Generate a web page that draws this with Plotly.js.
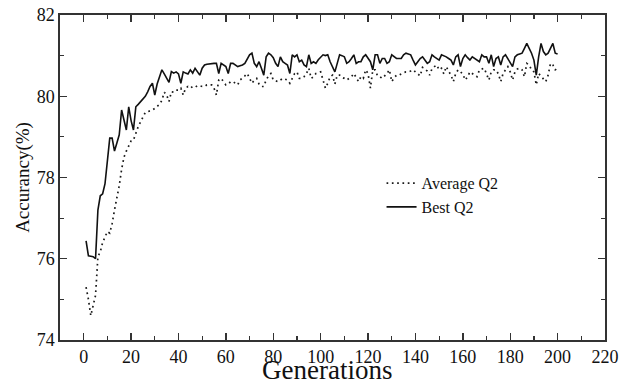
<!DOCTYPE html>
<html>
<head>
<meta charset="utf-8">
<script src="https://cdn.plot.ly/plotly-3.0.1.min.js"></script>
<style>html,body{margin:0;padding:0;background:#fff;}#chart{width:621px;height:381px;}</style>
</head>
<body>
<div id="chart"></div>
<script>
// Generations 1..200
const generations = Array.from({length: 200}, (_, i) => i + 1);

const bestQ2 = [
76.44,76.07,76.06,76.05,76.0,77.2,77.55,77.6,77.85,78.4,
78.97,78.97,78.65,78.85,79.05,79.66,79.4,79.17,79.74,79.4,
79.17,79.74,79.8,79.87,79.92,80.0,80.11,80.24,80.32,80.03,
80.3,80.45,80.65,80.55,80.45,80.34,80.61,80.57,80.6,80.55,
80.32,80.6,80.57,80.55,80.65,80.57,80.69,80.6,80.52,80.69,
80.77,80.79,80.8,80.8,80.81,80.81,80.56,80.81,80.77,80.73,
80.56,80.81,80.81,80.78,80.73,80.75,80.77,80.81,80.9,81.02,
81.06,80.81,80.73,80.85,80.69,80.52,80.97,81.06,81.02,80.95,
80.81,80.73,80.97,80.85,80.81,80.77,80.56,81.02,80.97,81.02,
80.85,80.89,80.77,80.73,81.02,80.81,80.85,80.81,80.9,80.97,
81.02,81.0,81.02,80.85,80.73,80.6,80.81,81.02,81.0,80.97,
80.81,80.85,80.93,81.02,80.81,80.85,80.85,80.97,81.02,80.93,
80.85,80.65,81.02,81.02,80.81,80.93,80.93,80.81,80.85,81.02,
80.97,80.93,80.93,80.93,81.02,81.06,81.04,81.02,80.89,80.77,
80.85,80.93,80.97,80.9,80.81,80.85,81.02,80.97,80.93,80.89,
81.02,81.0,80.97,80.93,80.89,80.77,80.97,81.02,80.73,80.93,
81.02,80.95,80.89,80.97,80.93,80.89,80.85,81.02,80.97,80.97,
80.81,81.02,80.73,80.93,80.97,80.77,80.97,81.02,80.93,80.85,
80.73,80.97,81.02,81.04,81.06,81.18,81.3,81.18,81.06,80.89,
80.52,80.97,81.3,81.1,81.02,81.06,81.2,81.3,81.06,81.04
];

const averageQ2 = [
75.3,75.0,74.6,74.85,75.1,76.05,76.17,76.4,76.55,76.67,
76.63,76.87,77.2,77.5,77.8,78.2,78.5,78.65,78.8,78.9,
78.92,79.1,79.25,79.37,79.5,79.6,79.62,79.64,79.66,79.7,
79.74,79.8,79.9,80.1,80.03,79.87,80.11,80.1,80.15,80.15,
80.2,80.03,80.2,80.24,80.2,80.24,80.22,80.26,80.26,80.24,
80.24,80.28,80.28,80.28,80.2,80.03,80.4,80.44,80.36,80.28,
80.3,80.36,80.36,80.32,80.28,80.4,80.44,80.5,80.56,80.44,
80.32,80.4,80.44,80.3,80.24,80.24,80.4,80.5,80.56,80.4,
80.38,80.36,80.4,80.44,80.42,80.4,80.32,80.45,80.56,80.6,
80.44,80.44,80.48,80.56,80.69,80.44,80.48,80.56,80.58,80.6,
80.4,80.2,80.32,80.48,80.52,80.3,80.52,80.52,80.46,80.44,
80.4,80.44,80.48,80.56,80.45,80.36,80.48,80.44,80.65,80.56,
80.2,80.65,80.65,80.5,80.48,80.44,80.5,80.56,80.65,80.36,
80.45,80.52,80.52,80.56,80.58,80.6,80.6,80.62,80.65,80.6,
80.56,80.5,80.71,80.67,80.62,80.52,80.68,80.73,80.77,80.65,
80.69,80.55,80.73,80.62,80.52,80.36,80.56,80.65,80.6,80.55,
80.4,80.48,80.6,80.56,80.52,80.48,80.65,80.67,80.69,80.55,
80.4,80.6,80.65,80.65,80.55,80.36,80.56,80.65,80.73,80.6,
80.4,80.6,80.67,80.69,80.65,80.48,80.81,80.77,80.65,80.6,
80.28,80.56,80.5,80.44,80.36,80.52,80.81,80.77,80.65,80.69
];

const seriesNames = ['Average Q2', 'Best Q2'];
const xTicks = [0,20,40,60,80,100,120,140,160,180,200,220];
const yTicks = [74,76,78,80,82];
const xTitle = 'Generations';
const yTitle = 'Accurancy(%)';

const serif = 'Liberation Serif, Times New Roman, serif';
const axisCol = '#333333';

const traces = [
  {x: generations, y: averageQ2, name: seriesNames[0], type: 'scatter', mode: 'lines',
   line: {color: '#1a1a1a', width: 1.7, dash: '1.7px,3.6px'}},
  {x: generations, y: bestQ2, name: seriesNames[1], type: 'scatter', mode: 'lines',
   line: {color: '#111111', width: 1.6}}
];

const axisCommon = {
  showgrid: false, zeroline: false, showline: true, linecolor: axisCol, linewidth: 1.6,
  mirror: 'ticks', ticks: 'inside', ticklen: 7, tickwidth: 1.4, tickcolor: axisCol,
  tickfont: {family: serif, size: 18, color: '#111'}, automargin: false
};

const layout = {
  width: 621, height: 381,
  margin: {l: 60, r: 16, t: 15, b: 41},
  paper_bgcolor: '#fff', plot_bgcolor: '#fff',
  showlegend: true,
  legend: {x: 0.59, y: 0.535, xanchor: 'left', yanchor: 'top', bgcolor: 'rgba(0,0,0,0)',
           font: {family: serif, size: 16, color: '#111'}, tracegroupgap: 0},
  xaxis: Object.assign({}, axisCommon, {
    range: [-10, 220], tickvals: xTicks, ticktext: xTicks.map(String),
    minor: {dtick: 10, tick0: 0, ticks: 'inside', ticklen: 4, tickwidth: 1.2, tickcolor: axisCol}
  }),
  yaxis: Object.assign({}, axisCommon, {
    range: [74, 82], tickvals: yTicks, ticktext: yTicks.map(String),
    minor: {dtick: 1, tick0: 74, ticks: 'inside', ticklen: 4, tickwidth: 1.2, tickcolor: axisCol},
    title: {text: yTitle, font: {family: serif, size: 19, color: '#111'}, standoff: 2}
  }),
  annotations: [
    {text: xTitle, xref: 'paper', yref: 'paper', x: 0.49, y: 0, xanchor: 'center', yanchor: 'top',
     yshift: -13, showarrow: false, font: {family: serif, size: 27, color: '#111'}}
  ]
};

Plotly.newPlot('chart', traces, layout, {displayModeBar: false, staticPlot: true});
</script>
</body>
</html>
